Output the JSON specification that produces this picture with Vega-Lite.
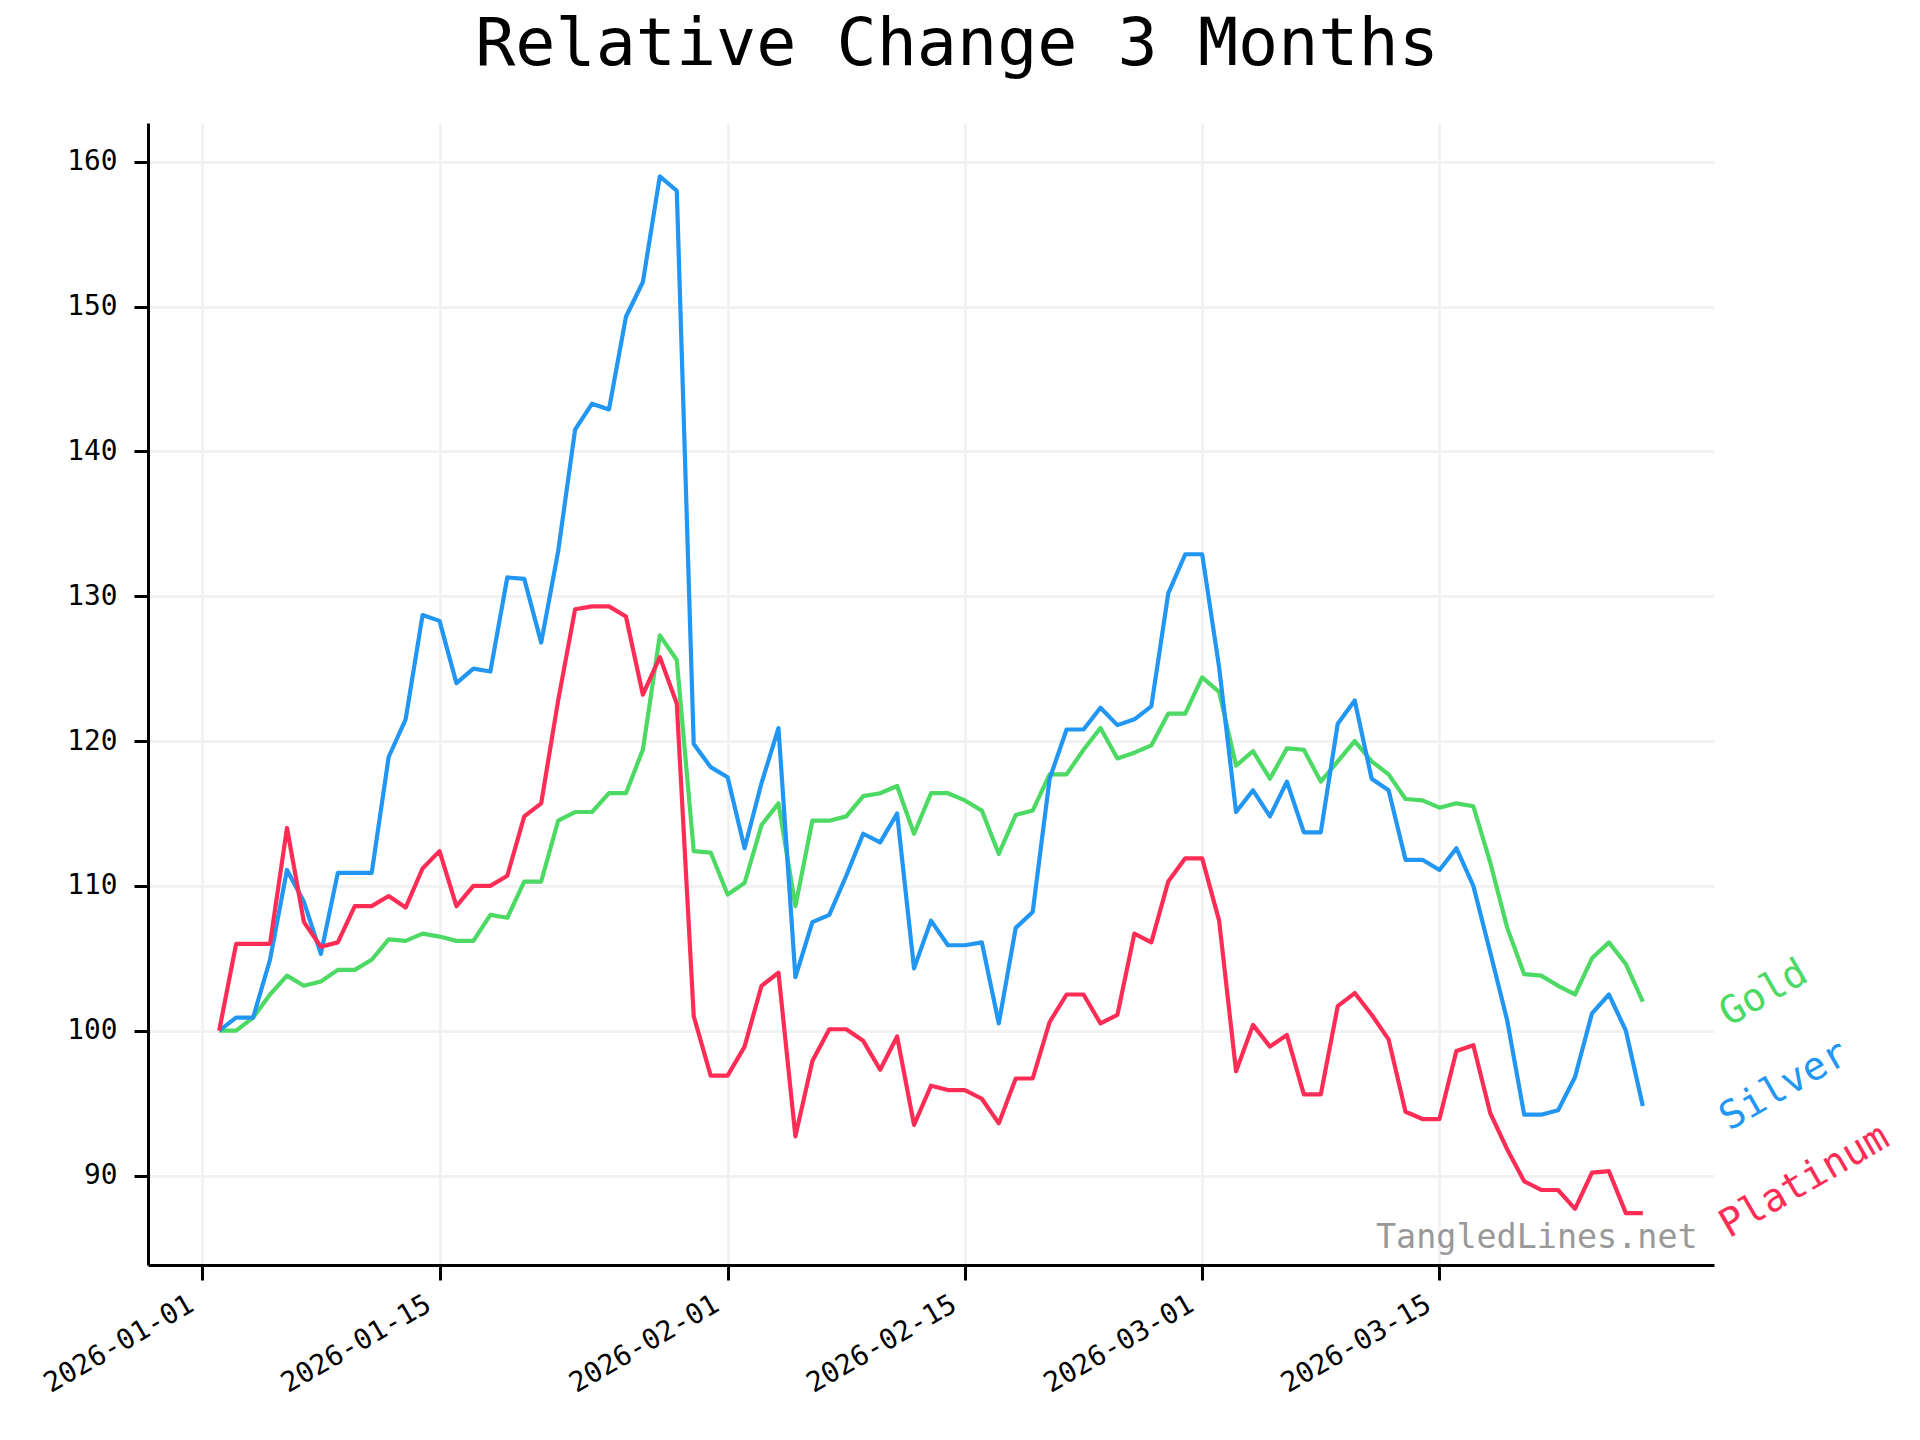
{
  "$schema": "https://vega.github.io/schema/vega-lite/v6.json",
  "autosize": {"type": "none"},
  "width": 1566,
  "height": 1142,
  "padding": {"left": 148, "top": 123, "right": 206, "bottom": 175},
  "background": "white",
  "title": {
    "text": "Relative Change 3 Months",
    "font": "DejaVu Sans Mono",
    "fontSize": 66.7,
    "fontWeight": "normal",
    "color": "#000000",
    "anchor": "middle",
    "frame": "group",
    "dx": 26,
    "baseline": "alphabetic",
    "offset": -9
  },
  "config": {
    "view": {"stroke": null},
    "font": "DejaVu Sans Mono"
  },
  "datasets": {
    "prices": [
      {"date": "2026-01-02", "metal": "Gold", "value": 100.0},
      {"date": "2026-01-03", "metal": "Gold", "value": 100.0},
      {"date": "2026-01-04", "metal": "Gold", "value": 100.9},
      {"date": "2026-01-05", "metal": "Gold", "value": 102.5},
      {"date": "2026-01-06", "metal": "Gold", "value": 103.8},
      {"date": "2026-01-07", "metal": "Gold", "value": 103.1},
      {"date": "2026-01-08", "metal": "Gold", "value": 103.4},
      {"date": "2026-01-09", "metal": "Gold", "value": 104.2},
      {"date": "2026-01-10", "metal": "Gold", "value": 104.2},
      {"date": "2026-01-11", "metal": "Gold", "value": 104.9},
      {"date": "2026-01-12", "metal": "Gold", "value": 106.3},
      {"date": "2026-01-13", "metal": "Gold", "value": 106.2},
      {"date": "2026-01-14", "metal": "Gold", "value": 106.7},
      {"date": "2026-01-15", "metal": "Gold", "value": 106.5},
      {"date": "2026-01-16", "metal": "Gold", "value": 106.2},
      {"date": "2026-01-17", "metal": "Gold", "value": 106.2},
      {"date": "2026-01-18", "metal": "Gold", "value": 108.0},
      {"date": "2026-01-19", "metal": "Gold", "value": 107.8},
      {"date": "2026-01-20", "metal": "Gold", "value": 110.3},
      {"date": "2026-01-21", "metal": "Gold", "value": 110.3},
      {"date": "2026-01-22", "metal": "Gold", "value": 114.5},
      {"date": "2026-01-23", "metal": "Gold", "value": 115.1},
      {"date": "2026-01-24", "metal": "Gold", "value": 115.1},
      {"date": "2026-01-25", "metal": "Gold", "value": 116.4},
      {"date": "2026-01-26", "metal": "Gold", "value": 116.4},
      {"date": "2026-01-27", "metal": "Gold", "value": 119.4},
      {"date": "2026-01-28", "metal": "Gold", "value": 127.3},
      {"date": "2026-01-29", "metal": "Gold", "value": 125.6},
      {"date": "2026-01-30", "metal": "Gold", "value": 112.4},
      {"date": "2026-01-31", "metal": "Gold", "value": 112.3},
      {"date": "2026-02-01", "metal": "Gold", "value": 109.4},
      {"date": "2026-02-02", "metal": "Gold", "value": 110.2},
      {"date": "2026-02-03", "metal": "Gold", "value": 114.2},
      {"date": "2026-02-04", "metal": "Gold", "value": 115.7},
      {"date": "2026-02-05", "metal": "Gold", "value": 108.6},
      {"date": "2026-02-06", "metal": "Gold", "value": 114.5},
      {"date": "2026-02-07", "metal": "Gold", "value": 114.5},
      {"date": "2026-02-08", "metal": "Gold", "value": 114.8},
      {"date": "2026-02-09", "metal": "Gold", "value": 116.2},
      {"date": "2026-02-10", "metal": "Gold", "value": 116.4},
      {"date": "2026-02-11", "metal": "Gold", "value": 116.9},
      {"date": "2026-02-12", "metal": "Gold", "value": 113.6},
      {"date": "2026-02-13", "metal": "Gold", "value": 116.4},
      {"date": "2026-02-14", "metal": "Gold", "value": 116.4},
      {"date": "2026-02-15", "metal": "Gold", "value": 115.9},
      {"date": "2026-02-16", "metal": "Gold", "value": 115.2},
      {"date": "2026-02-17", "metal": "Gold", "value": 112.2},
      {"date": "2026-02-18", "metal": "Gold", "value": 114.9},
      {"date": "2026-02-19", "metal": "Gold", "value": 115.2},
      {"date": "2026-02-20", "metal": "Gold", "value": 117.7},
      {"date": "2026-02-21", "metal": "Gold", "value": 117.7},
      {"date": "2026-02-22", "metal": "Gold", "value": 119.4},
      {"date": "2026-02-23", "metal": "Gold", "value": 120.9},
      {"date": "2026-02-24", "metal": "Gold", "value": 118.8},
      {"date": "2026-02-25", "metal": "Gold", "value": 119.2},
      {"date": "2026-02-26", "metal": "Gold", "value": 119.7},
      {"date": "2026-02-27", "metal": "Gold", "value": 121.9},
      {"date": "2026-02-28", "metal": "Gold", "value": 121.9},
      {"date": "2026-03-01", "metal": "Gold", "value": 124.4},
      {"date": "2026-03-02", "metal": "Gold", "value": 123.4},
      {"date": "2026-03-03", "metal": "Gold", "value": 118.3},
      {"date": "2026-03-04", "metal": "Gold", "value": 119.3},
      {"date": "2026-03-05", "metal": "Gold", "value": 117.4},
      {"date": "2026-03-06", "metal": "Gold", "value": 119.5},
      {"date": "2026-03-07", "metal": "Gold", "value": 119.4},
      {"date": "2026-03-08", "metal": "Gold", "value": 117.2},
      {"date": "2026-03-09", "metal": "Gold", "value": 118.6},
      {"date": "2026-03-10", "metal": "Gold", "value": 120.0},
      {"date": "2026-03-11", "metal": "Gold", "value": 118.6},
      {"date": "2026-03-12", "metal": "Gold", "value": 117.7},
      {"date": "2026-03-13", "metal": "Gold", "value": 116.0},
      {"date": "2026-03-14", "metal": "Gold", "value": 115.9},
      {"date": "2026-03-15", "metal": "Gold", "value": 115.4},
      {"date": "2026-03-16", "metal": "Gold", "value": 115.7},
      {"date": "2026-03-17", "metal": "Gold", "value": 115.5},
      {"date": "2026-03-18", "metal": "Gold", "value": 111.6},
      {"date": "2026-03-19", "metal": "Gold", "value": 107.1},
      {"date": "2026-03-20", "metal": "Gold", "value": 103.9},
      {"date": "2026-03-21", "metal": "Gold", "value": 103.8},
      {"date": "2026-03-22", "metal": "Gold", "value": 103.1},
      {"date": "2026-03-23", "metal": "Gold", "value": 102.5},
      {"date": "2026-03-24", "metal": "Gold", "value": 105.0},
      {"date": "2026-03-25", "metal": "Gold", "value": 106.1},
      {"date": "2026-03-26", "metal": "Gold", "value": 104.6},
      {"date": "2026-03-27", "metal": "Gold", "value": 102.0},
      {"date": "2026-01-02", "metal": "Silver", "value": 100.0},
      {"date": "2026-01-03", "metal": "Silver", "value": 100.9},
      {"date": "2026-01-04", "metal": "Silver", "value": 100.9},
      {"date": "2026-01-05", "metal": "Silver", "value": 104.9},
      {"date": "2026-01-06", "metal": "Silver", "value": 111.1},
      {"date": "2026-01-07", "metal": "Silver", "value": 108.9},
      {"date": "2026-01-08", "metal": "Silver", "value": 105.3},
      {"date": "2026-01-09", "metal": "Silver", "value": 110.9},
      {"date": "2026-01-10", "metal": "Silver", "value": 110.9},
      {"date": "2026-01-11", "metal": "Silver", "value": 110.9},
      {"date": "2026-01-12", "metal": "Silver", "value": 118.9},
      {"date": "2026-01-13", "metal": "Silver", "value": 121.5},
      {"date": "2026-01-14", "metal": "Silver", "value": 128.7},
      {"date": "2026-01-15", "metal": "Silver", "value": 128.3},
      {"date": "2026-01-16", "metal": "Silver", "value": 124.0},
      {"date": "2026-01-17", "metal": "Silver", "value": 125.0},
      {"date": "2026-01-18", "metal": "Silver", "value": 124.8},
      {"date": "2026-01-19", "metal": "Silver", "value": 131.3},
      {"date": "2026-01-20", "metal": "Silver", "value": 131.2},
      {"date": "2026-01-21", "metal": "Silver", "value": 126.8},
      {"date": "2026-01-22", "metal": "Silver", "value": 133.1},
      {"date": "2026-01-23", "metal": "Silver", "value": 141.5},
      {"date": "2026-01-24", "metal": "Silver", "value": 143.3},
      {"date": "2026-01-25", "metal": "Silver", "value": 142.9},
      {"date": "2026-01-26", "metal": "Silver", "value": 149.3},
      {"date": "2026-01-27", "metal": "Silver", "value": 151.7},
      {"date": "2026-01-28", "metal": "Silver", "value": 159.0},
      {"date": "2026-01-29", "metal": "Silver", "value": 158.0},
      {"date": "2026-01-30", "metal": "Silver", "value": 119.8},
      {"date": "2026-01-31", "metal": "Silver", "value": 118.2},
      {"date": "2026-02-01", "metal": "Silver", "value": 117.5},
      {"date": "2026-02-02", "metal": "Silver", "value": 112.6},
      {"date": "2026-02-03", "metal": "Silver", "value": 117.1},
      {"date": "2026-02-04", "metal": "Silver", "value": 120.9},
      {"date": "2026-02-05", "metal": "Silver", "value": 103.7},
      {"date": "2026-02-06", "metal": "Silver", "value": 107.5},
      {"date": "2026-02-07", "metal": "Silver", "value": 108.0},
      {"date": "2026-02-08", "metal": "Silver", "value": 110.7},
      {"date": "2026-02-09", "metal": "Silver", "value": 113.6},
      {"date": "2026-02-10", "metal": "Silver", "value": 113.0},
      {"date": "2026-02-11", "metal": "Silver", "value": 115.0},
      {"date": "2026-02-12", "metal": "Silver", "value": 104.3},
      {"date": "2026-02-13", "metal": "Silver", "value": 107.6},
      {"date": "2026-02-14", "metal": "Silver", "value": 105.9},
      {"date": "2026-02-15", "metal": "Silver", "value": 105.9},
      {"date": "2026-02-16", "metal": "Silver", "value": 106.1},
      {"date": "2026-02-17", "metal": "Silver", "value": 100.5},
      {"date": "2026-02-18", "metal": "Silver", "value": 107.1},
      {"date": "2026-02-19", "metal": "Silver", "value": 108.2},
      {"date": "2026-02-20", "metal": "Silver", "value": 117.4},
      {"date": "2026-02-21", "metal": "Silver", "value": 120.8},
      {"date": "2026-02-22", "metal": "Silver", "value": 120.8},
      {"date": "2026-02-23", "metal": "Silver", "value": 122.3},
      {"date": "2026-02-24", "metal": "Silver", "value": 121.1},
      {"date": "2026-02-25", "metal": "Silver", "value": 121.5},
      {"date": "2026-02-26", "metal": "Silver", "value": 122.4},
      {"date": "2026-02-27", "metal": "Silver", "value": 130.2},
      {"date": "2026-02-28", "metal": "Silver", "value": 132.9},
      {"date": "2026-03-01", "metal": "Silver", "value": 132.9},
      {"date": "2026-03-02", "metal": "Silver", "value": 125.1},
      {"date": "2026-03-03", "metal": "Silver", "value": 115.1},
      {"date": "2026-03-04", "metal": "Silver", "value": 116.6},
      {"date": "2026-03-05", "metal": "Silver", "value": 114.8},
      {"date": "2026-03-06", "metal": "Silver", "value": 117.2},
      {"date": "2026-03-07", "metal": "Silver", "value": 113.7},
      {"date": "2026-03-08", "metal": "Silver", "value": 113.7},
      {"date": "2026-03-09", "metal": "Silver", "value": 121.2},
      {"date": "2026-03-10", "metal": "Silver", "value": 122.8},
      {"date": "2026-03-11", "metal": "Silver", "value": 117.4},
      {"date": "2026-03-12", "metal": "Silver", "value": 116.6},
      {"date": "2026-03-13", "metal": "Silver", "value": 111.8},
      {"date": "2026-03-14", "metal": "Silver", "value": 111.8},
      {"date": "2026-03-15", "metal": "Silver", "value": 111.1},
      {"date": "2026-03-16", "metal": "Silver", "value": 112.6},
      {"date": "2026-03-17", "metal": "Silver", "value": 110.0},
      {"date": "2026-03-18", "metal": "Silver", "value": 105.4},
      {"date": "2026-03-19", "metal": "Silver", "value": 100.7},
      {"date": "2026-03-20", "metal": "Silver", "value": 94.2},
      {"date": "2026-03-21", "metal": "Silver", "value": 94.2},
      {"date": "2026-03-22", "metal": "Silver", "value": 94.5},
      {"date": "2026-03-23", "metal": "Silver", "value": 96.8},
      {"date": "2026-03-24", "metal": "Silver", "value": 101.2},
      {"date": "2026-03-25", "metal": "Silver", "value": 102.5},
      {"date": "2026-03-26", "metal": "Silver", "value": 100.0},
      {"date": "2026-03-27", "metal": "Silver", "value": 94.8},
      {"date": "2026-01-02", "metal": "Platinum", "value": 100.0},
      {"date": "2026-01-03", "metal": "Platinum", "value": 106.0},
      {"date": "2026-01-04", "metal": "Platinum", "value": 106.0},
      {"date": "2026-01-05", "metal": "Platinum", "value": 106.0},
      {"date": "2026-01-06", "metal": "Platinum", "value": 114.0},
      {"date": "2026-01-07", "metal": "Platinum", "value": 107.5},
      {"date": "2026-01-08", "metal": "Platinum", "value": 105.8},
      {"date": "2026-01-09", "metal": "Platinum", "value": 106.1},
      {"date": "2026-01-10", "metal": "Platinum", "value": 108.6},
      {"date": "2026-01-11", "metal": "Platinum", "value": 108.6},
      {"date": "2026-01-12", "metal": "Platinum", "value": 109.3},
      {"date": "2026-01-13", "metal": "Platinum", "value": 108.5},
      {"date": "2026-01-14", "metal": "Platinum", "value": 111.2},
      {"date": "2026-01-15", "metal": "Platinum", "value": 112.4},
      {"date": "2026-01-16", "metal": "Platinum", "value": 108.6},
      {"date": "2026-01-17", "metal": "Platinum", "value": 110.0},
      {"date": "2026-01-18", "metal": "Platinum", "value": 110.0},
      {"date": "2026-01-19", "metal": "Platinum", "value": 110.7},
      {"date": "2026-01-20", "metal": "Platinum", "value": 114.8},
      {"date": "2026-01-21", "metal": "Platinum", "value": 115.7},
      {"date": "2026-01-22", "metal": "Platinum", "value": 122.8},
      {"date": "2026-01-23", "metal": "Platinum", "value": 129.1},
      {"date": "2026-01-24", "metal": "Platinum", "value": 129.3},
      {"date": "2026-01-25", "metal": "Platinum", "value": 129.3},
      {"date": "2026-01-26", "metal": "Platinum", "value": 128.6},
      {"date": "2026-01-27", "metal": "Platinum", "value": 123.2},
      {"date": "2026-01-28", "metal": "Platinum", "value": 125.8},
      {"date": "2026-01-29", "metal": "Platinum", "value": 122.6},
      {"date": "2026-01-30", "metal": "Platinum", "value": 101.0},
      {"date": "2026-01-31", "metal": "Platinum", "value": 96.9},
      {"date": "2026-02-01", "metal": "Platinum", "value": 96.9},
      {"date": "2026-02-02", "metal": "Platinum", "value": 98.9},
      {"date": "2026-02-03", "metal": "Platinum", "value": 103.1},
      {"date": "2026-02-04", "metal": "Platinum", "value": 104.0},
      {"date": "2026-02-05", "metal": "Platinum", "value": 92.7},
      {"date": "2026-02-06", "metal": "Platinum", "value": 97.9},
      {"date": "2026-02-07", "metal": "Platinum", "value": 100.1},
      {"date": "2026-02-08", "metal": "Platinum", "value": 100.1},
      {"date": "2026-02-09", "metal": "Platinum", "value": 99.3},
      {"date": "2026-02-10", "metal": "Platinum", "value": 97.3},
      {"date": "2026-02-11", "metal": "Platinum", "value": 99.6},
      {"date": "2026-02-12", "metal": "Platinum", "value": 93.5},
      {"date": "2026-02-13", "metal": "Platinum", "value": 96.2},
      {"date": "2026-02-14", "metal": "Platinum", "value": 95.9},
      {"date": "2026-02-15", "metal": "Platinum", "value": 95.9},
      {"date": "2026-02-16", "metal": "Platinum", "value": 95.3},
      {"date": "2026-02-17", "metal": "Platinum", "value": 93.6},
      {"date": "2026-02-18", "metal": "Platinum", "value": 96.7},
      {"date": "2026-02-19", "metal": "Platinum", "value": 96.7},
      {"date": "2026-02-20", "metal": "Platinum", "value": 100.6},
      {"date": "2026-02-21", "metal": "Platinum", "value": 102.5},
      {"date": "2026-02-22", "metal": "Platinum", "value": 102.5},
      {"date": "2026-02-23", "metal": "Platinum", "value": 100.5},
      {"date": "2026-02-24", "metal": "Platinum", "value": 101.1},
      {"date": "2026-02-25", "metal": "Platinum", "value": 106.7},
      {"date": "2026-02-26", "metal": "Platinum", "value": 106.1},
      {"date": "2026-02-27", "metal": "Platinum", "value": 110.3},
      {"date": "2026-02-28", "metal": "Platinum", "value": 111.9},
      {"date": "2026-03-01", "metal": "Platinum", "value": 111.9},
      {"date": "2026-03-02", "metal": "Platinum", "value": 107.6},
      {"date": "2026-03-03", "metal": "Platinum", "value": 97.2},
      {"date": "2026-03-04", "metal": "Platinum", "value": 100.4},
      {"date": "2026-03-05", "metal": "Platinum", "value": 98.9},
      {"date": "2026-03-06", "metal": "Platinum", "value": 99.7},
      {"date": "2026-03-07", "metal": "Platinum", "value": 95.6},
      {"date": "2026-03-08", "metal": "Platinum", "value": 95.6},
      {"date": "2026-03-09", "metal": "Platinum", "value": 101.7},
      {"date": "2026-03-10", "metal": "Platinum", "value": 102.6},
      {"date": "2026-03-11", "metal": "Platinum", "value": 101.1},
      {"date": "2026-03-12", "metal": "Platinum", "value": 99.4},
      {"date": "2026-03-13", "metal": "Platinum", "value": 94.4},
      {"date": "2026-03-14", "metal": "Platinum", "value": 93.9},
      {"date": "2026-03-15", "metal": "Platinum", "value": 93.9},
      {"date": "2026-03-16", "metal": "Platinum", "value": 98.6},
      {"date": "2026-03-17", "metal": "Platinum", "value": 99.0},
      {"date": "2026-03-18", "metal": "Platinum", "value": 94.3},
      {"date": "2026-03-19", "metal": "Platinum", "value": 91.8},
      {"date": "2026-03-20", "metal": "Platinum", "value": 89.6},
      {"date": "2026-03-21", "metal": "Platinum", "value": 89.0},
      {"date": "2026-03-22", "metal": "Platinum", "value": 89.0},
      {"date": "2026-03-23", "metal": "Platinum", "value": 87.7},
      {"date": "2026-03-24", "metal": "Platinum", "value": 90.2},
      {"date": "2026-03-25", "metal": "Platinum", "value": 90.3},
      {"date": "2026-03-26", "metal": "Platinum", "value": 87.4},
      {"date": "2026-03-27", "metal": "Platinum", "value": 87.4}
    ]
  },
  "layer": [
    {
      "data": {"name": "prices"},
      "mark": {"type": "line", "strokeWidth": 4.2, "strokeJoin": "round", "clip": true},
      "encoding": {
        "x": {
          "field": "date",
          "type": "temporal",
          "scale": {
            "type": "utc",
            "domain": [
              {"year": 2025, "month": 12, "date": 28, "hours": 19, "minutes": 12, "utc": true},
              {"year": 2026, "month": 3, "date": 31, "hours": 4, "minutes": 48, "utc": true}
            ]
          },
          "axis": {
            "title": null,
            "values": [
              {"year": 2026, "month": 1, "date": 1, "utc": true},
              {"year": 2026, "month": 1, "date": 15, "utc": true},
              {"year": 2026, "month": 2, "date": 1, "utc": true},
              {"year": 2026, "month": 2, "date": 15, "utc": true},
              {"year": 2026, "month": 3, "date": 1, "utc": true},
              {"year": 2026, "month": 3, "date": 15, "utc": true}
            ],
            "format": "%Y-%m-%d",
            "labelAngle": -30,
            "labelAlign": "right",
            "labelBaseline": "top",
            "labelFont": "DejaVu Sans Mono",
            "labelFontSize": 27.8,
            "labelColor": "#000000",
            "labelPadding": 10,
            "labelOffset": -18,
            "labelOverlap": false,
            "labelFlush": false,
            "domainColor": "#000000",
            "domainWidth": 3,
            "tickColor": "#000000",
            "tickWidth": 3,
            "tickSize": 15,
            "grid": true,
            "gridColor": "#f2f2f2",
            "gridWidth": 3
          }
        },
        "y": {
          "field": "value",
          "type": "quantitative",
          "scale": {"domain": [83.82, 162.68], "nice": false, "zero": false},
          "axis": {
            "title": null,
            "values": [90, 100, 110, 120, 130, 140, 150, 160],
            "labelFont": "DejaVu Sans Mono",
            "labelFontSize": 27.8,
            "labelColor": "#000000",
            "labelPadding": 17,
            "domainColor": "#000000",
            "domainWidth": 3,
            "tickColor": "#000000",
            "tickWidth": 3,
            "tickSize": 14,
            "grid": true,
            "gridColor": "#f2f2f2",
            "gridWidth": 3
          }
        },
        "color": {
          "field": "metal",
          "type": "nominal",
          "scale": {"domain": ["Gold", "Silver", "Platinum"], "range": ["#4cd964", "#2196f3", "#ff2d55"]},
          "legend": null
        }
      }
    },
    {
      "data": {"name": "prices"},
      "transform": [{"filter": "utcmonth(datum.date) == 2 && utcdate(datum.date) == 27"}],
      "mark": {
        "type": "text",
        "align": "left",
        "baseline": "alphabetic",
        "angle": -30,
        "dx": 62,
        "dy": 65,
        "font": "DejaVu Sans Mono",
        "fontSize": 39
      },
      "encoding": {
        "x": {"field": "date", "type": "temporal"},
        "y": {"field": "value", "type": "quantitative"},
        "text": {"field": "metal", "type": "nominal"},
        "color": {"field": "metal", "type": "nominal", "legend": null}
      }
    },
    {
      "data": {"values": [{"label": "TangledLines.net"}]},
      "mark": {
        "type": "text",
        "align": "right",
        "baseline": "alphabetic",
        "font": "DejaVu Sans Mono",
        "fontSize": 33.4,
        "fill": "#999999"
      },
      "encoding": {
        "x": {"datum": 1774849000000, "type": "temporal"},
        "y": {"datum": 85.0, "type": "quantitative"},
        "text": {"field": "label", "type": "nominal"}
      }
    }
  ]
}
